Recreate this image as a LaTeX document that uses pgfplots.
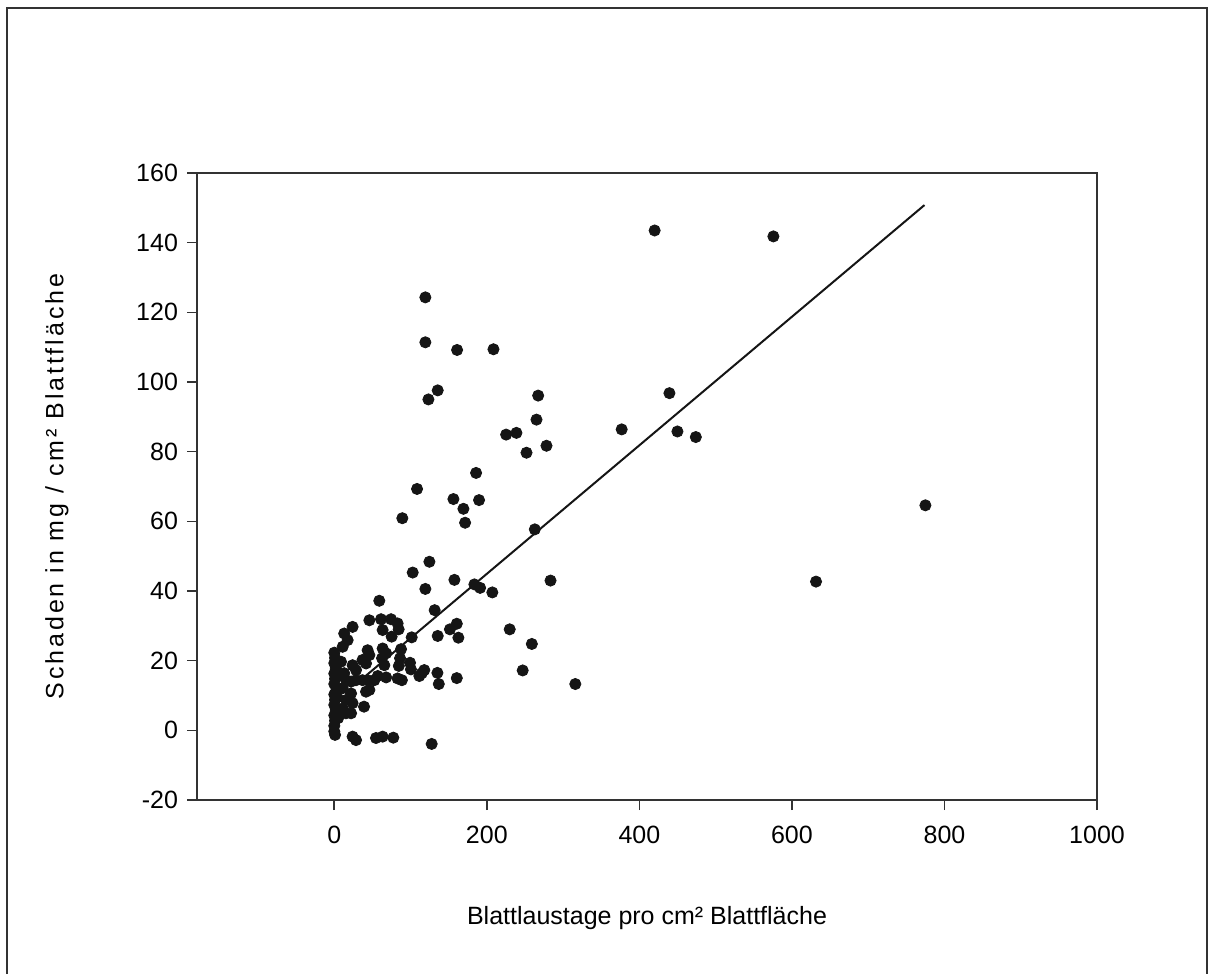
\documentclass[border=0pt]{standalone}
\usepackage{pgfplots}
\pgfplotsset{compat=1.18}
\usepackage{fontspec}
\setmainfont{Liberation Sans}
\newfontfamily\spaced[LetterSpace=11.6]{Liberation Sans}
\definecolor{dot}{HTML}{151515}
\definecolor{axc}{HTML}{333333}
\begin{document}
\begin{tikzpicture}
\path (0pt,0pt) rectangle (606.5pt,-487pt);
\draw[line width=1pt, color=axc] (3.5pt,-487pt) -- (3.5pt,-4pt) -- (603.5pt,-4pt) -- (603.5pt,-487pt);
\begin{axis}[
  at={(98.5pt,-400pt)}, anchor=south west,
  scale only axis, width=450pt, height=313.5pt,
  xmin=-180, xmax=1000, ymin=-20, ymax=160,
  xtick={0,200,...,1000}, ytick={-20,0,...,160},
  xtick pos=left, ytick pos=left, tick align=outside,
  major tick length=5pt,
  axis line style={color=axc, line width=0.8pt},
  tick style={color=axc, line width=0.8pt},
  /pgf/number format/assume math mode=true,
  /pgf/number format/1000 sep={},
  tick label style={font=\fontsize{12.5}{15}\selectfont},
  xticklabel style={yshift=-4.5pt},
  yticklabel style={xshift=-1pt},
  xlabel={Blattlaustage pro cm² Blattfläche},
  ylabel={{\spaced Schaden in mg / cm² Blattfläche}},
  xlabel style={font=\fontsize{12.5}{15}\selectfont, at={(axis description cs:0.5,-0.188)}, anchor=center},
  ylabel style={font=\fontsize{12.5}{15}\selectfont, at={(axis description cs:-0.1556,0.5)}, anchor=center, rotate=0},
  clip=false,
]
\addplot[only marks, mark=*, mark size=2.8pt, color=dot] coordinates {
(420,143.5) (575.7,141.8) (439.4,96.8) (376.8,86.4) (449.9,85.8) (474,84.2) (775,64.6) (631.6,42.7)
(119.4,124.3) (119.4,111.4) (161,109.2) (208.7,109.4) (135.6,97.6) (123.4,95.0) (267.3,96.1) (265.1,89.2)
(225.3,84.9) (238.8,85.4) (252,79.7) (278.2,81.7) (185.9,73.9) (108.5,69.3) (156.2,66.4) (189.8,66.1)
(169.3,63.6) (171.5,59.6) (89.2,60.9) (262.9,57.7) (124.7,48.4) (102.8,45.3) (157.5,43.2) (119.4,40.6)
(183.7,41.9) (191.2,40.9) (207.2,39.6) (283.5,43.0) (59,37.2) (131.6,34.5) (230,29.0) (259,24.8)
(247,17.2) (316,13.3) (160.6,30.6) (151.6,29.0) (162.7,26.6) (135.6,27.1) (135.2,16.5) (137,13.3)
(160.6,15.0) (101.5,26.7) (127.7,-3.9) (77.4,-2.1) (63.4,-1.8) (54.7,-2.2) (24,-1.8) (28.5,-2.8)
(46,31.6) (61.3,31.9) (74.4,31.9) (83,30.7) (84.4,29) (63.4,28.8) (75.2,26.9) (63.4,23.5) (68,22.1)
(87.5,23.3) (62.6,20.7) (86.2,20.7) (65.6,18.7) (84.6,18.5) (99.3,19.4) (100.5,17.5) (114.8,16.4)
(118,17.3) (111.5,15.6) (83,14.9) (88.6,14.4) (68,15.2) (57,15.6) (52.5,14.4) (46,11.6)
(24,29.7) (13,27.8) (17.5,25.9) (11,24) (43.7,23) (46,21.6) (37,20.2) (41.6,19.2) (8.8,19.7)
(24,18.7) (28.5,17.3) (13,16.4) (15.3,14.4) (22,14) (28.5,14.4) (37,14.4) (43.7,14.4) (11,12.1)
(41.6,11.1) (22,10.6) (15.3,8.7) (24,7.8) (39,6.8) (11,6.3) (15.3,4.9) (22,4.9)
(0,22.3) (1,20.8) (0,19.3) (2,17.8) (0,16.3) (1,14.8) (0,13.3) (3,11.8) (0,10.3) (1,8.8) (0,7.3)
(2,5.8) (0,4.3) (1,2.8) (0,1.3) (0,-0.3) (1,-1.3) (4,9.5) (4,15.5) (5,3.5)
};
\addplot[no marks, line width=1pt, color=dot] coordinates {(28,13.2) (773.8,150.8)};
\end{axis}
\end{tikzpicture}
\end{document}
